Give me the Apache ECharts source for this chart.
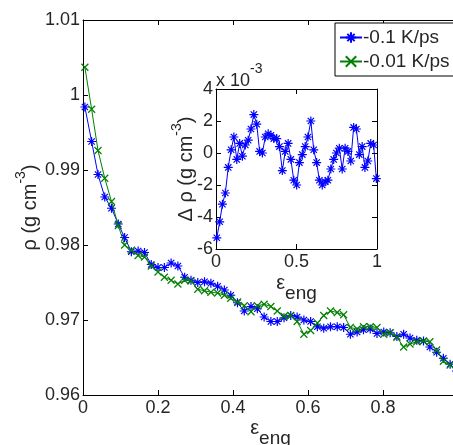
<!DOCTYPE html>
<html>
<head>
<meta charset="utf-8">
<script src="https://cdn.jsdelivr.net/npm/echarts@6/dist/echarts.min.js"></script>
<style>
  html, body { margin: 0; padding: 0; background: #fff; }
  #chart { width: 453px; height: 445px; }
</style>
</head>
<body>
<div id="chart"></div>
<script>
// Engineering strain at each sample
const strain = [
  0.005, 0.023, 0.040, 0.058, 0.076, 0.094, 0.111, 0.129, 0.147, 0.164,
  0.182, 0.200, 0.217, 0.235, 0.253, 0.271, 0.288, 0.306, 0.324, 0.341,
  0.359, 0.377, 0.394, 0.412, 0.430, 0.448, 0.465, 0.483, 0.501, 0.518,
  0.536, 0.554, 0.571, 0.589, 0.607, 0.625, 0.642, 0.660, 0.678, 0.695,
  0.713, 0.731, 0.748, 0.766, 0.784, 0.802, 0.819, 0.837, 0.855, 0.872,
  0.890, 0.908, 0.925, 0.943, 0.961, 0.979, 0.996
];

// Density (g cm^-3), quench rate -0.1 K/ps
const rhoFast = [
  0.9984, 0.9938, 0.9894, 0.9864, 0.9849, 0.9828, 0.9810, 0.9791, 0.9792, 0.9790,
  0.9774, 0.9770, 0.9770, 0.9776, 0.9772, 0.9757, 0.9753, 0.9750, 0.9751, 0.9749,
  0.9745, 0.9740, 0.9733, 0.9723, 0.9712, 0.9718, 0.9715, 0.9704, 0.9698, 0.9698,
  0.9703, 0.9706, 0.9704, 0.9700, 0.9698, 0.9691, 0.9689, 0.9691, 0.9691, 0.9690,
  0.9681, 0.9684, 0.9687, 0.9688, 0.9682, 0.9684, 0.9683, 0.9678, 0.9681, 0.9676,
  0.9673, 0.9672, 0.9664, 0.9657, 0.9649, 0.9641, 0.9632
];

// Density (g cm^-3), quench rate -0.01 K/ps
const rhoSlow = [
  1.0037, 0.9981, 0.9926, 0.9889, 0.9858, 0.9826, 0.9800, 0.9793, 0.9786, 0.9784,
  0.9772, 0.9764, 0.9757, 0.9753, 0.9748, 0.9753, 0.9752, 0.9741, 0.9739, 0.9737,
  0.9736, 0.9733, 0.9729, 0.9724, 0.9719, 0.9711, 0.9719, 0.9721, 0.9718, 0.9712,
  0.9705, 0.9706, 0.9698, 0.9681, 0.9686, 0.9696, 0.9706, 0.9712, 0.9710, 0.9707,
  0.9690, 0.9688, 0.9691, 0.9691, 0.9690, 0.9681, 0.9683, 0.9677, 0.9664, 0.9668,
  0.9671, 0.9672, 0.9671, 0.9660, 0.9645, 0.9640, 0.9634
];

// Density difference (fast - slow), in units of 10^-3 g cm^-3
const deltaRho = [
  -5.3, -4.3, -3.2, -2.5, -0.9, 0.2, 1.0, -0.4, 0.6, -0.2,
  0.5, 0.8, 1.5, 2.4, 1.8, 0.1, 0.0, 1.0, 1.2, 1.1,
  0.9, 0.9, 0.4, -1.1, 0.1, 0.6, -0.4, -1.7, -2.0, -0.6,
  -0.1, 0.4, 1.0, 2.0, 0.2, -0.6, -1.7, -2.0, -1.8, -1.7,
  -1.0, -0.4, 0.0, 0.3, -1.0, 0.3, 0.1, -0.5, 1.6, 1.5,
  -0.1, 0.4, -0.9, -0.5, 0.6, 0.5, -1.6
];

const seriesNames = ['-0.1 K/ps', '-0.01 K/ps'];

const FONT = 'Liberation Sans, Arial, sans-serif';
const INK = '#262626';
const BLUE = '#0000ff';
const GREEN = '#008000';

// Stroked marker shapes: 8-armed asterisk and a cross
const STAR = 'path://M0,-1L0,1M-1,0L1,0M-0.7,-0.7L0.7,0.7M-0.7,0.7L0.7,-0.7';
const CROSS = 'path://M-1,-1L1,1M-1,1L1,-1';

const pairs = (ys) => strain.map((x, i) => [x, ys[i]]);

const tickStyle = { show: true, inside: true, length: 5, lineStyle: { color: '#000', width: 1 } };
const lineStyleAxis = { show: true, onZero: false, lineStyle: { color: '#000', width: 1 } };
const labelStyle = { color: INK, fontFamily: FONT, fontSize: 18 };

// Rich styles for super- and subscripts in axis titles
const richName = {
  b: { fontFamily: FONT, fontSize: 20, color: INK, lineHeight: 26, verticalAlign: 'bottom' },
  p: { fontFamily: FONT, fontSize: 14, color: INK, lineHeight: 14, verticalAlign: 'top' },
  e: { fontFamily: FONT, fontSize: 20, color: INK, lineHeight: 20, verticalAlign: 'top' },
  s: { fontFamily: FONT, fontSize: 19, color: INK, lineHeight: 30, verticalAlign: 'bottom' }
};

const fmtNum = (v) => String(parseFloat(Number(v).toFixed(3)));

const chart = echarts.init(document.getElementById('chart'), null, { renderer: 'canvas' });

chart.setOption({
  animation: false,
  backgroundColor: '#fff',
  textStyle: { fontFamily: FONT },
  grid: [
    { left: 83, top: 20, width: 375, height: 375, show: false, outerBoundsMode: 'none', containLabel: false },
    { left: 216, top: 89, width: 161, height: 160, show: true, backgroundColor: '#fff', borderWidth: 0, z: 5,
      outerBoundsMode: 'none', containLabel: false }
  ],
  legend: {
    data: seriesNames,
    orient: 'vertical',
    left: 335, top: 23,
    padding: [5, 8, 5, 4],
    itemGap: 5,
    itemWidth: 22, itemHeight: 13,
    borderColor: '#000', borderWidth: 1, borderRadius: 0,
    backgroundColor: '#fff',
    textStyle: { color: INK, fontFamily: FONT, fontSize: 19, lineHeight: 19, padding: [0, 0, 0, -4] },
    z: 20
  },
  xAxis: [
    {
      gridIndex: 0, type: 'value', min: 0, max: 1, interval: 0.2, position: 'bottom',
      axisLine: lineStyleAxis, axisTick: tickStyle, splitLine: { show: false },
      axisLabel: Object.assign({ margin: 4, formatter: fmtNum }, labelStyle),
      name: '{e|ε}{s|eng}', nameLocation: 'middle', nameGap: 23, nameMoveOverlap: false,
      nameTextStyle: { rich: richName }
    },
    {
      gridIndex: 0, type: 'value', min: 0, max: 1, interval: 0.2, position: 'top',
      axisLine: lineStyleAxis, axisTick: tickStyle, axisLabel: { show: false }, splitLine: { show: false }
    },
    {
      gridIndex: 1, type: 'value', min: 0, max: 1, interval: 0.5, position: 'bottom',
      axisLine: lineStyleAxis, axisTick: tickStyle, splitLine: { show: false },
      axisLabel: Object.assign({ margin: 4, formatter: fmtNum }, labelStyle),
      name: '{e|ε}{s|eng}', nameLocation: 'middle', nameGap: 24, nameMoveOverlap: false,
      nameTextStyle: { rich: richName }, z: 6
    },
    {
      gridIndex: 1, type: 'value', min: 0, max: 1, interval: 0.5, position: 'top',
      axisLine: lineStyleAxis, axisTick: tickStyle, axisLabel: { show: false }, splitLine: { show: false }, z: 6
    }
  ],
  yAxis: [
    {
      gridIndex: 0, type: 'value', min: 0.96, max: 1.01, interval: 0.01, position: 'left',
      axisLine: lineStyleAxis, axisTick: tickStyle, splitLine: { show: false },
      axisLabel: Object.assign({ margin: 3, formatter: fmtNum }, labelStyle),
      name: '{b|ρ (g cm}{p|-3}{b|)}', nameLocation: 'middle', nameGap: 43, nameRotate: 90,
      nameMoveOverlap: false,
      nameTextStyle: { rich: richName }
    },
    {
      gridIndex: 0, type: 'value', min: 0.96, max: 1.01, interval: 0.01, position: 'right',
      axisLine: lineStyleAxis, axisTick: tickStyle, axisLabel: { show: false }, splitLine: { show: false }
    },
    {
      gridIndex: 1, type: 'value', min: -6, max: 4, interval: 2, position: 'left',
      axisLine: lineStyleAxis, axisTick: tickStyle, splitLine: { show: false },
      axisLabel: Object.assign({ margin: 3, formatter: fmtNum }, labelStyle),
      name: '{b|Δ ρ (g cm}{p|-3}{b|)}', nameLocation: 'middle', nameGap: 20, nameRotate: 90,
      nameMoveOverlap: false,
      nameTextStyle: { rich: richName }, z: 6
    },
    {
      gridIndex: 1, type: 'value', min: -6, max: 4, interval: 2, position: 'right',
      axisLine: lineStyleAxis, axisTick: tickStyle, axisLabel: { show: false }, splitLine: { show: false }, z: 6
    }
  ],
  series: [
    {
      name: seriesNames[0], type: 'line', xAxisIndex: 0, yAxisIndex: 0,
      data: pairs(rhoFast),
      symbol: STAR, symbolSize: 9,
      lineStyle: { color: BLUE, width: 1 },
      itemStyle: { color: 'rgba(0,0,0,0)', borderColor: BLUE, borderWidth: 1.2 },
      z: 3
    },
    {
      name: seriesNames[1], type: 'line', xAxisIndex: 0, yAxisIndex: 0,
      data: pairs(rhoSlow),
      symbol: CROSS, symbolSize: 7,
      lineStyle: { color: GREEN, width: 1 },
      itemStyle: { color: 'rgba(0,0,0,0)', borderColor: GREEN, borderWidth: 1.2 },
      z: 4
    },
    {
      name: 'delta', type: 'line', xAxisIndex: 2, yAxisIndex: 2,
      data: pairs(deltaRho),
      symbol: STAR, symbolSize: 9,
      lineStyle: { color: BLUE, width: 1 },
      itemStyle: { color: 'rgba(0,0,0,0)', borderColor: BLUE, borderWidth: 1.2 },
      z: 7
    }
  ],
  graphic: [
    {
      type: 'text', left: 216, top: 62, z: 10,
      style: {
        text: '{b|x 10}{p|-3}',
        rich: {
          b: { fontFamily: FONT, fontSize: 18, fill: INK, lineHeight: 28, verticalAlign: 'bottom' },
          p: { fontFamily: FONT, fontSize: 14, fill: INK, lineHeight: 14, verticalAlign: 'top' }
        }
      }
    }
  ]
});
</script>
</body>
</html>
